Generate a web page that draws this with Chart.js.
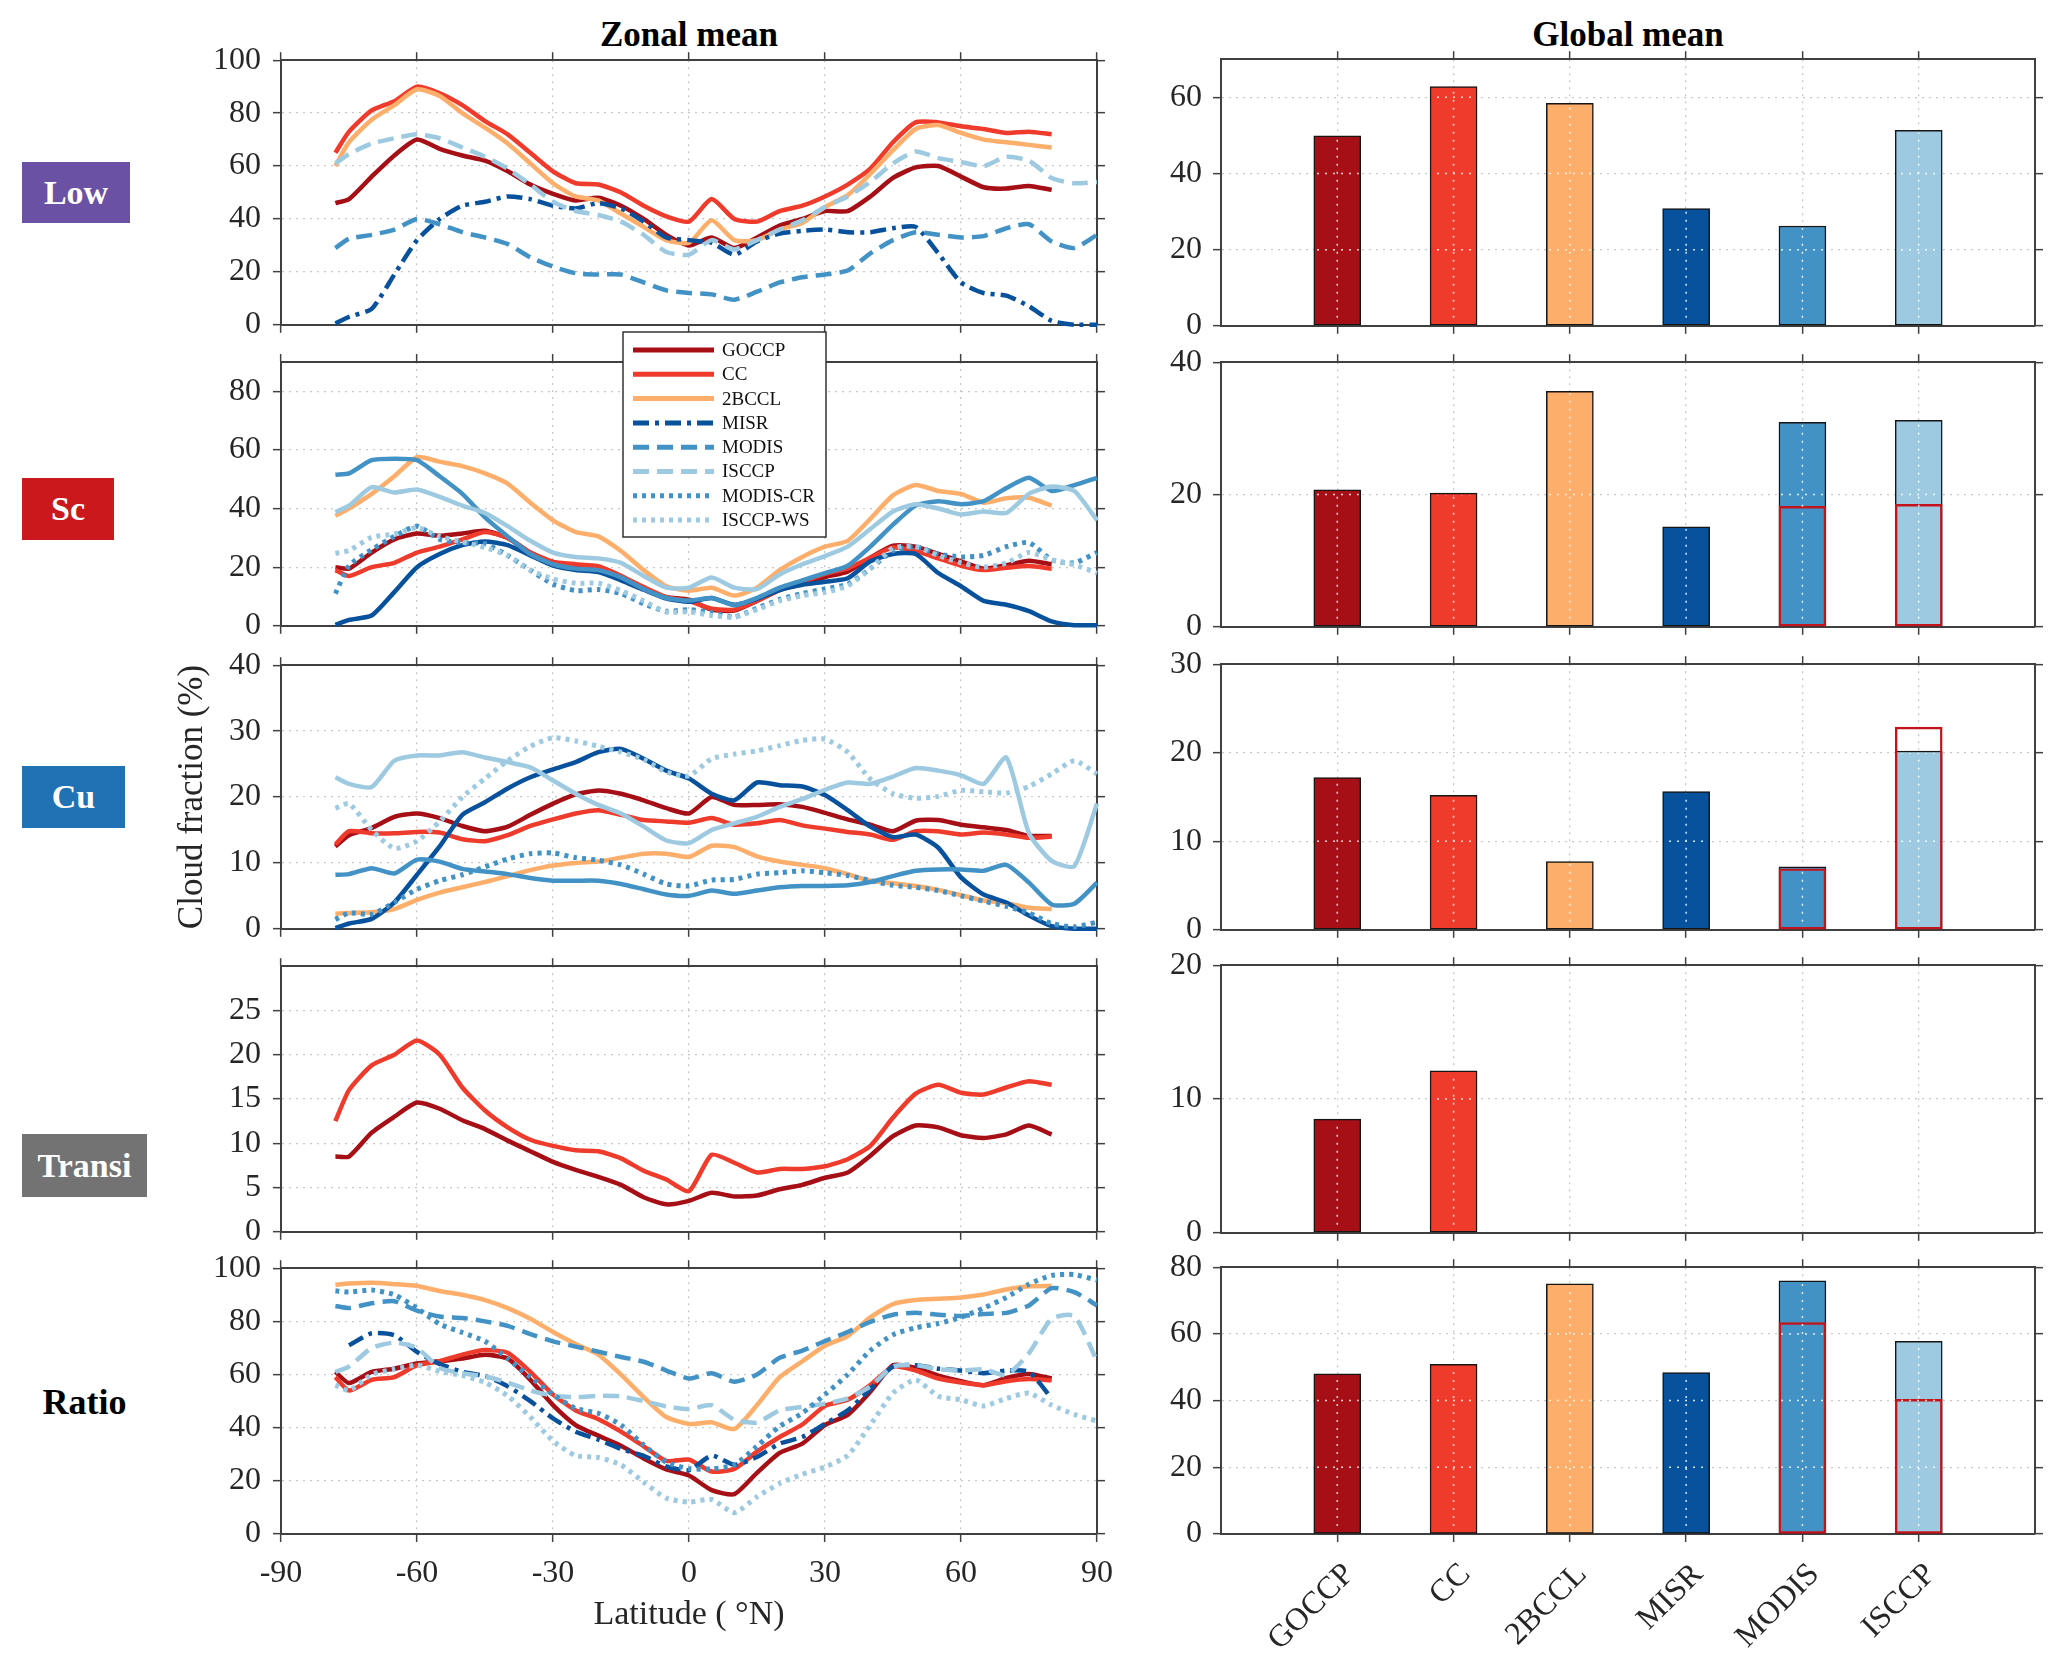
<!DOCTYPE html>
<html><head><meta charset="utf-8">
<script src="https://cdn.jsdelivr.net/npm/chart.js@4.4.1/dist/chart.umd.min.js"></script>
<style>
html,body{margin:0;padding:0;background:#fff}
body{position:relative;width:2068px;height:1673px;overflow:hidden;font-family:'Liberation Serif','Times New Roman',serif}
canvas{position:absolute}
.t{position:absolute;font-weight:bold;text-align:center;color:#000}
.box{position:absolute;color:#fff;font-weight:bold;display:flex;align-items:center;justify-content:center;font-size:34px}
</style></head><body>
<div class="t" style="left:489px;top:14px;width:400px;font-size:35px;line-height:42px">Zonal mean</div>
<div class="t" style="left:1428px;top:14px;width:400px;font-size:35px;line-height:42px">Global mean</div>
<div class="box" style="left:22px;top:162px;width:108px;height:61px;background:#6a51a3">Low</div>
<div class="box" style="left:22px;top:478px;width:92px;height:62px;background:#cb181d">Sc</div>
<div class="box" style="left:22px;top:766px;width:103px;height:62px;background:#2171b5">Cu</div>
<div class="box" style="left:22px;top:1134px;width:125px;height:63px;background:#737373">Transi</div>
<div class="box" style="left:22px;top:1370px;width:125px;height:63px;color:#000;font-size:36px">Ratio</div>
<script>
// ---------------- DATA ----------------
const lat = [-78,-75,-70,-65,-60,-55,-50,-45,-40,-35,-30,-25,-20,-15,-10,-5,0,5,10,15,20,25,30,35,40,45,50,55,60,65,70,75,80,85,90];
const latTicks = [-90,-60,-30,0,30,60,90];

// Low cloud fraction (%)
const lowGOCCP = [46,47.5,56,64,70,66.5,64,62,58,53,49.5,47,48,45,40,34,30,33,29,33,37.5,40,43,43,48.5,55.5,59.5,60,56,52,51.5,52.5,51,null,null];
const lowCC    = [65,73,81,84.5,90,87.5,83,77,72,65,58,53.5,53,50,45,41,39,47.5,40,39,43,45,48.5,53,59,69,76.5,76.5,75,74,72.5,73,72,null,null];
const low2BCCL = [60,69,77.5,83,89,86.5,80,74.5,68.5,61,53.5,48.5,47,42,37,32,31,39.5,32,32,36,38.5,44.5,49,57,66,74,75.5,72.5,70,69,68,67,null,null];
const lowMISR  = [0.5,3,6,19,32,40,45,46.5,48.5,47.5,45,44,46,44,39,33,32,31,26.5,31.5,34.5,35.5,36,35,35,36.5,37,27,16,12,11,7,1.5,0,0];
const lowMODIS = [29,32.5,34,36,40,38,35,33,30.5,25.5,22,19.5,19,19,16,13,12,11.5,9.5,12.5,16,18,19,20.5,27,32,35,34,33,33.5,36.5,38,31.5,29,34];
const lowISCCP = [61,64.5,68.5,70.5,72,70.5,67,63.5,59,53,46.5,43,41.5,39,34,27.5,26.5,32,28.5,32,36,39.5,44.5,48.5,54,61,65.5,63,61.5,60,63.5,62,55.5,53.5,54];

// Sc
const scGOCCP = [20,19.5,25,29.5,31.5,30.7,31.5,32.4,30,25,21.8,20.5,20,17,12.6,9.8,8.9,5.5,5.2,8.5,12.2,14.2,16.6,18.5,23.2,27.3,27,24.5,22,19.5,20.7,22.2,21,null,null];
const scCC    = [19,17,20,21.5,25,27,29.5,32,30,25,21.8,21,20.3,17,13.2,9.8,8.4,5.8,5.5,8.5,12.3,15,17.7,19.6,23.2,26.7,25.5,23,20.5,19,19.8,20.4,19.5,null,null];
const sc2BCCL = [37.5,40,45,51,57.5,56,54.5,52,48.5,42,36,32,30.5,25.5,19,13.5,12,13,10.3,13,19,23.5,27,29,36.5,44.5,48,46,45,42,43.5,43.7,41,null,null];
const scMISR  = [0.3,2,3.5,11.5,20,24.5,27.5,28.8,27.5,24,20.5,19,18.3,15.5,12.3,9.3,8.2,9.5,7.2,9.2,12.2,14,15,16.2,22,24.5,24.5,18,13.5,8.5,7.2,5,1.5,0.2,0.2];
const scMODIS = [51.5,52,56.5,57,56.5,51,45,37,30.5,24.5,21,19.5,19,16.5,12.5,9.5,8.6,9.5,7,9.5,13,15.5,18,20.5,27,34.5,41,42.5,41.5,42.5,47,50.5,46,48,50.5];
const scISCCP = [38.8,41,47.3,45.5,46.5,44,41,38.5,34,29,25,23.5,23,21.5,17,13,13,16.5,13,12.5,17.5,21,23.8,27,33,39,41.5,40,38,39,38.5,45,47.5,46,36];
const scMODISCR = [11,20.5,26,30.5,34,29.5,28.3,28,24,19,14.2,12,12.4,11,7.5,5,5.5,4.5,3,6,9,11,12.6,14.2,19.5,25.6,27,24.5,23.5,24,27,28.4,22.5,21.5,25];
const scISCCPWS = [24.7,25.7,30.2,31.3,33.5,30.5,28.6,26.7,24,19,16,14.5,14.5,12,8.5,4.7,4.8,3.5,3,5.5,8.5,10.3,11.4,13.6,19.5,26.5,27,24,21.5,20,21.4,25,22.5,20.8,18];

// Cu
const cuGOCCP = [12.5,14.2,15.3,17,17.5,16.8,15.6,14.8,15.5,17.3,19,20.4,21,20.5,19.5,18.3,17.5,20,18.8,18.8,18.9,18.5,17.6,16.6,15.8,14.8,16.4,16.5,15.8,15.4,15,14.1,14.1,null,null];
const cuCC    = [12.8,14.8,14.5,14.5,14.7,14.6,13.6,13.3,14.2,15.6,16.6,17.5,18,17.3,16.5,16.3,16.1,16.8,15.8,16,16.5,15.7,15.2,14.7,14.3,13.5,14.8,14.8,14.3,14.6,14.3,13.8,14,null,null];
const cu2BCCL = [2.3,2.4,2.5,3,4.4,5.5,6.3,7.1,8,8.9,9.6,10,10.2,10.8,11.4,11.4,10.9,12.6,12.4,11,10.2,9.7,9.2,8.3,7.3,6.9,6.5,5.9,5.1,4.3,3.9,3.2,3,null,null];
const cuMISR  = [0.1,0.8,1.5,4,8.2,12.5,17.3,19.2,21.3,23,24.2,25.3,26.8,27.3,25.8,24,22.8,20.5,19.5,22.2,21.8,21.6,20.3,18,15.5,13.9,14.3,12.3,7.8,5.2,4,2,0.4,0,0];
const cuMODIS = [8.2,8.3,9.2,8.4,10.5,10.2,9.1,8.7,8.3,7.7,7.3,7.3,7.3,6.8,6,5.2,5,5.8,5.3,5.8,6.3,6.5,6.5,6.6,7.1,8,8.8,9,9,8.8,9.7,7,3.7,3.8,7];
const cuISCCP = [23,22,21.5,25.5,26.3,26.3,26.8,26,25.3,24.5,22.5,20.5,18.8,17.5,15.5,13.4,13,15,16,17,18.5,19.7,21.1,22.2,22,23.1,24.4,24,23.3,22,26,14.5,10.3,9.5,19];
const cuMODISCR = [1.4,2.4,2.2,4,6,7.3,8.2,9.4,10.6,11.4,11.5,10.8,10.4,9.7,8.3,6.8,6.5,7.4,7.5,8.3,8.5,8.8,8.5,8.1,7.3,6.6,6.3,5.8,5,4.2,3.4,2.4,0.8,0.3,1];
const cuISCCPWS = [18.3,19,15,12.2,13.3,16.3,20,22.8,25.5,27.7,29,28.5,27.7,26.8,25.7,23.8,23.2,25.8,26.5,27,27.8,28.6,28.8,26.8,22.7,20.5,19.8,20.1,21,20.8,20.6,21.6,23.5,25.5,23.5];

// Transition
const trGOCCP = [8.5,8.5,11.2,13,14.6,13.9,12.6,11.6,10.3,9.1,7.9,7,6.2,5.3,3.9,3.1,3.5,4.4,4,4.1,4.8,5.3,6.1,6.7,8.6,10.8,12,11.8,10.9,10.6,11,12,11,null,null];
const trCC    = [12.5,16,18.8,20,21.6,20,16.3,13.7,11.8,10.4,9.7,9.2,9.1,8.3,6.9,5.9,4.6,8.7,7.8,6.7,7.1,7.1,7.4,8.2,9.7,12.9,15.6,16.6,15.7,15.5,16.3,17,16.6,null,null];

// Ratio
const raGOCCP = [61,56.8,61,62.2,64.2,65,66,67.4,66,58,48.5,41,37,33.2,28.4,24.3,22,16.5,15,23,30.5,34,41,44.8,53.5,63.5,62.5,59.6,57.5,56,58.7,60.2,58.5,null,null];
const raCC    = [59,54,58,59,63.5,65,67.5,69.2,68.2,61,52.5,46.5,43.2,38.5,33,27.5,28,23.5,24.5,31,36.5,41.2,48.2,50.5,56,63,61.5,58.5,57,56,57.5,58.3,57.8,null,null];
const ra2BCCL = [93.8,94.2,94.5,94,93.3,91.4,90,88,85,81,76,71.5,67.5,60,51.5,44,41.4,42,39.5,48.5,59,65,70.8,74.5,81.5,86.5,88,88.5,89,90.1,92,93.2,93.3,null,null];
const raMISR  = [null,71,75.5,74.8,68.5,64,61,59.4,55.6,50,43.5,38.5,35.5,32,29.4,25.4,24,29.5,26,29,34,36.5,41.5,46.5,54.5,63,63.5,62.2,61.5,60.5,61.5,61,51,null,null];
const raMODIS = [85.8,85,86.8,87.6,84,81.8,81.3,80,78.3,75.2,72.5,70.5,68.6,66.6,64.8,61.5,58.5,60.5,57.3,60,66.3,69,72.6,76,79.8,82.5,83.2,82.5,82,82.8,83.2,86,92.5,91,86];
const raISCCP = [61,63,70,72,70,62.5,60.5,59.3,57,54,52,51.5,52,51.8,50,48,47,48.5,43,42,46.5,47.8,49,51,55.5,63,63.5,62,61.5,62,59.8,68,81,82,65];
const raMODISCR = [91.5,91,91.8,90,85,79,75.8,72.5,66,59,52.5,47.2,45.4,41,33.5,27,24.6,24.5,26,33,40.5,45.5,52.5,60,69,75,77.6,79.2,81.5,85,89,94,97.3,97.6,95.5];
const raISCCPWS = [56,54,60,62,63.5,61.2,59.6,57,52,44,35,29.5,28.8,26,19.5,13.5,12,13,8,14,19,22.5,25.2,29.5,41,53,58,51.8,50.5,48.2,51,53,48.5,45,42.5];

// Global means (bars)
const barNames = ['GOCCP','CC','2BCCL','MISR','MODIS','ISCCP'];
const lowBar   = [49.9,62.8,58.4,30.8,26.2,51.3];
const scBar    = [20.7,20.2,35.6,15.1,30.9,31.2];
const scBarCR  = [null,null,null,null,18.2,18.5];
const cuBar    = [17.2,15.2,7.7,15.6,7.1,20.2];
const cuBarCR  = [null,null,null,null,6.9,22.9];
const trBar    = [8.5,12.1,null,null,null,null];
const raBar    = [48,50.9,75,48.4,75.9,57.8];
const raBarCR  = [null,null,null,null,63.4,40.4];

// ---------------- STYLE ----------------
const FONT = "'Liberation Serif','Times New Roman',serif";
const AX = '#404040', GRID = '#c8c8c8', TXT = '#262626';
const seriesColors = {GOCCP:'#a50f15', CC:'#ef3b2c', '2BCCL':'#fdae6b', MISR:'#08519c', MODIS:'#4292c6', ISCCP:'#9ecae1', 'MODIS-CR':'#4292c6', 'ISCCP-WS':'#9ecae1'};
const barColors = ['#a50f15','#ef3b2c','#fdae6b','#08519c','#4292c6','#9ecae1'];
const DASHES = {solid:[], dash:[16,8], dashdot:[16,6,4,6], dot:[4,5]};
const lowStyle = {GOCCP:'solid', CC:'solid', '2BCCL':'solid', MISR:'dashdot', MODIS:'dash', ISCCP:'dash'};
const scStyle = {GOCCP:'solid', CC:'solid', '2BCCL':'solid', MISR:'solid', MODIS:'solid', ISCCP:'solid', 'MODIS-CR':'dot', 'ISCCP-WS':'dot'};
const ratioStyle = {GOCCP:'solid', CC:'solid', '2BCCL':'solid', MISR:'dashdot', MODIS:'dash', ISCCP:'dash', 'MODIS-CR':'dot', 'ISCCP-WS':'dot'};

function addCanvas(left, top, w, h) {
  const c = document.createElement('canvas');
  c.width = w; c.height = h;
  c.style.left = left + 'px'; c.style.top = top + 'px';
  c.style.width = w + 'px'; c.style.height = h + 'px';
  document.body.appendChild(c);
  return c;
}

function lineDatasets(map, style) {
  const names = Object.keys(map);
  return names.map((n, i) => ({
    type: 'line', label: n, xAxisID: 'x', yAxisID: 'y',
    data: lat.map((x, j) => ({x: x, y: map[n][j]})),
    borderColor: seriesColors[n], backgroundColor: seriesColors[n],
    borderWidth: style[n] === 'dot' ? 5 : 4.5,
    borderDash: DASHES[style[n]], borderCapStyle: 'butt', borderJoinStyle: 'round',
    pointRadius: 0, pointHoverRadius: 0, tension: 0.2, fill: false, spanGaps: false,
    order: names.length - i, clip: 4
  }));
}

function barDatasets(vals, cr) {
  return [
    { type: 'bar', label: 'CR', xAxisID: 'x', yAxisID: 'y',
      data: cr ? cr.map((v, i) => ({x: i + 1, y: v})) : [],
      backgroundColor: 'rgba(0,0,0,0)', borderColor: '#c3141e', borderWidth: 1.8,
      borderSkipped: false, barThickness: 47, grouped: false },
    { type: 'bar', label: 'mean', xAxisID: 'x', yAxisID: 'y',
      data: vals.map((v, i) => ({x: i + 1, y: v})),
      backgroundColor: barColors, borderColor: '#151515', borderWidth: 1.5,
      borderSkipped: false, barThickness: 47, grouped: false }
  ];
}

function makeScale(o) {
  const horiz = (o.pos === 'top' || o.pos === 'bottom');
  return {
    type: 'linear', position: o.pos, min: o.min, max: o.max, offset: false,
    afterBuildTicks: s => { s.ticks = o.ticks.map(v => ({value: v})); },
    afterFit: s => { if (horiz) s.height = o.size; else s.width = o.size; },
    ticks: {display: !!o.labels, font: {family: FONT, size: 32}, color: TXT, padding: o.pad == null ? 12 : o.pad,
            autoSkip: false, maxRotation: o.rot || 0, minRotation: o.rot || 0, labelOffset: o.lo || 0,
            callback: o.cb || (v => String(v))},
    grid: {display: true, drawOnChartArea: !!o.main, drawTicks: true, tickLength: 8, tickWidth: 1.5, tickColor: AX,
           color: c => (c.tick && (c.tick.value === o.min || c.tick.value === o.max)) ? 'rgba(0,0,0,0)' : GRID,
           lineWidth: 1.3, offset: false},
    border: {display: true, color: AX, width: 2, dash: [2, 5]},
    title: o.title || {display: false}
  };
}

const barGridPlugin = {
  id: 'barGrid',
  afterDatasetsDraw(chart) {
    const ctx = chart.ctx, ys = chart.scales.y, xs = chart.scales.x;
    const meta = chart.getDatasetMeta(1);
    if (!meta) return;
    ctx.save();
    ctx.strokeStyle = 'rgba(255,255,255,0.85)'; ctx.lineWidth = 1.5; ctx.setLineDash([2, 6]);
    meta.data.forEach(el => {
      if (!el) return;
      const p = el.getProps(['x', 'y', 'base', 'width'], true);
      if (!isFinite(p.y) || !isFinite(p.base)) return;
      const top = Math.min(p.y, p.base), h = Math.abs(p.base - p.y);
      if (h < 4) return;
      ctx.save();
      ctx.beginPath(); ctx.rect(p.x - p.width / 2 + 2, top + 2, p.width - 4, h - 4); ctx.clip();
      ctx.beginPath();
      ctx.moveTo(p.x, ys.bottom); ctx.lineTo(p.x, ys.top);
      ys.ticks.forEach(t => { const py = ys.getPixelForValue(t.value); ctx.moveTo(xs.left, py); ctx.lineTo(xs.right, py); });
      ctx.stroke();
      ctx.restore();
    });
    ctx.restore();
  }
};

const legendNames = ['GOCCP','CC','2BCCL','MISR','MODIS','ISCCP','MODIS-CR','ISCCP-WS'];
function legendPlugin(ox, oy) {
  return {
    id: 'zoneLegend',
    afterDraw(chart) {
      const ctx = chart.ctx;
      ctx.save();
      const bx = 623 - ox, by = 332 - oy, bw = 203, bh = 205;
      ctx.fillStyle = '#fff'; ctx.fillRect(bx, by, bw, bh);
      ctx.strokeStyle = '#333'; ctx.lineWidth = 1.5; ctx.setLineDash([]); ctx.strokeRect(bx, by, bw, bh);
      legendNames.forEach((n, i) => {
        const y = 350 - oy + i * 24.3;
        ctx.strokeStyle = seriesColors[n]; ctx.lineWidth = 5; ctx.lineCap = 'butt';
        ctx.setLineDash(DASHES[ratioStyle[n]]);
        ctx.beginPath(); ctx.moveTo(633 - ox, y); ctx.lineTo(714 - ox, y); ctx.stroke();
        ctx.setLineDash([]);
        ctx.fillStyle = '#111'; ctx.font = '19px ' + FONT; ctx.textBaseline = 'middle'; ctx.textAlign = 'left';
        ctx.fillText(n, 722 - ox, y + 1);
      });
      ctx.restore();
    }
  };
}

function panel(p) {
  const L = p.col === 0 ? {pl: 281, pr: 1097, cl: 150, cr: 1137} : {pl: 1221, pr: 2035, cl: 1111, cr: 2068};
  const padT = p.padT || 30, padB = p.padB || 30;
  const cTop = p.top - padT, cH = p.bottom - p.top + padT + padB, cW = L.cr - L.cl;
  const cv = addCanvas(L.cl, cTop, cW, cH);
  const isBar = p.col === 1;
  const xMin = isBar ? 0 : -90, xMax = isBar ? 7 : 90;
  const xT = isBar ? barNames.map((_, i) => i + 1) : latTicks;
  const scales = {
    x: makeScale({pos: 'bottom', min: xMin, max: xMax, ticks: xT, main: true, size: padB, labels: p.xLabels,
                  cb: isBar ? (v => barNames[v - 1] || '') : (v => String(v)),
                  rot: (isBar && p.xLabels) ? 45 : 0, pad: isBar ? 14 : 12, lo: isBar ? 12 : 0, title: p.xTitle}),
    x2: makeScale({pos: 'top', min: xMin, max: xMax, ticks: xT, main: false, size: padT}),
    y: makeScale({pos: 'left', min: 0, max: p.ymax, ticks: p.yticks, main: true, size: L.pl - L.cl, labels: true,
                  pad: p.col === 0 ? 12 : 11, title: p.yTitle}),
    y2: makeScale({pos: 'right', min: 0, max: p.ymax, ticks: p.yticks, main: false, size: L.cr - L.pr})
  };
  const plugins = (p.plugins || []).map(f => f(L.cl, cTop));
  return new Chart(cv, {
    type: isBar ? 'bar' : 'line',
    data: {datasets: p.datasets},
    options: {responsive: false, animation: false, devicePixelRatio: 1, layout: {padding: 0}, events: [],
              plugins: {legend: {display: false}, tooltip: {enabled: false}}, scales: scales},
    plugins: plugins
  });
}

// ---------------- PANELS ----------------
const rows = [
  {top: 59,   bottom: 326,  lymax: 100, lyt: [0,20,40,60,80,100], rymax: 70, ryt: [0,20,40,60]},
  {top: 362,  bottom: 627,  lymax: 90,  lyt: [0,20,40,60,80],     rymax: 40, ryt: [0,20,40]},
  {top: 664,  bottom: 930,  lymax: 40,  lyt: [0,10,20,30,40],     rymax: 30, ryt: [0,10,20,30]},
  {top: 965,  bottom: 1233, lymax: 30,  lyt: [0,5,10,15,20,25],   rymax: 20, ryt: [0,10,20]},
  {top: 1267, bottom: 1534, lymax: 100, lyt: [0,20,40,60,80,100], rymax: 80, ryt: [0,20,40,60,80]}
];

const titleFontY = {display: true, text: 'Cloud fraction (%)', color: TXT, font: {family: FONT, size: 35}, padding: {top: 22, bottom: 0}};
const titleFontX = {display: true, text: 'Latitude ( \u00B0N)', color: TXT, font: {family: FONT, size: 34}, padding: {top: 0, bottom: 38}};

// Row 1: Low
panel({col: 0, top: rows[0].top, bottom: rows[0].bottom, ymax: rows[0].lymax, yticks: rows[0].lyt,
  datasets: lineDatasets({GOCCP: lowGOCCP, CC: lowCC, '2BCCL': low2BCCL, MISR: lowMISR, MODIS: lowMODIS, ISCCP: lowISCCP}, lowStyle)});
panel({col: 1, top: rows[0].top, bottom: rows[0].bottom, ymax: rows[0].rymax, yticks: rows[0].ryt,
  datasets: barDatasets(lowBar, null), plugins: [() => barGridPlugin]});

// Row 2: Sc (legend drawn here)
panel({col: 0, top: rows[1].top, bottom: rows[1].bottom, padT: 36, ymax: rows[1].lymax, yticks: rows[1].lyt,
  datasets: lineDatasets({GOCCP: scGOCCP, CC: scCC, '2BCCL': sc2BCCL, MISR: scMISR, MODIS: scMODIS, ISCCP: scISCCP, 'MODIS-CR': scMODISCR, 'ISCCP-WS': scISCCPWS}, scStyle),
  plugins: [legendPlugin]});
panel({col: 1, top: rows[1].top, bottom: rows[1].bottom, ymax: rows[1].rymax, yticks: rows[1].ryt,
  datasets: barDatasets(scBar, scBarCR), plugins: [() => barGridPlugin]});

// Row 3: Cu
panel({col: 0, top: rows[2].top, bottom: rows[2].bottom, ymax: rows[2].lymax, yticks: rows[2].lyt, yTitle: titleFontY,
  datasets: lineDatasets({GOCCP: cuGOCCP, CC: cuCC, '2BCCL': cu2BCCL, MISR: cuMISR, MODIS: cuMODIS, ISCCP: cuISCCP, 'MODIS-CR': cuMODISCR, 'ISCCP-WS': cuISCCPWS}, scStyle)});
panel({col: 1, top: rows[2].top, bottom: rows[2].bottom, ymax: rows[2].rymax, yticks: rows[2].ryt,
  datasets: barDatasets(cuBar, cuBarCR), plugins: [() => barGridPlugin]});

// Row 4: Transi
panel({col: 0, top: rows[3].top, bottom: rows[3].bottom, ymax: rows[3].lymax, yticks: rows[3].lyt,
  datasets: lineDatasets({GOCCP: trGOCCP, CC: trCC}, ratioStyle)});
panel({col: 1, top: rows[3].top, bottom: rows[3].bottom, ymax: rows[3].rymax, yticks: rows[3].ryt,
  datasets: barDatasets(trBar, null), plugins: [() => barGridPlugin]});

// Row 5: Ratio
panel({col: 0, top: rows[4].top, bottom: rows[4].bottom, padB: 139, ymax: rows[4].lymax, yticks: rows[4].lyt,
  xLabels: true, xTitle: titleFontX,
  datasets: lineDatasets({GOCCP: raGOCCP, CC: raCC, '2BCCL': ra2BCCL, MISR: raMISR, MODIS: raMODIS, ISCCP: raISCCP, 'MODIS-CR': raMODISCR, 'ISCCP-WS': raISCCPWS}, ratioStyle)});
panel({col: 1, top: rows[4].top, bottom: rows[4].bottom, padB: 139, ymax: rows[4].rymax, yticks: rows[4].ryt,
  xLabels: true, datasets: barDatasets(raBar, raBarCR), plugins: [() => barGridPlugin]});
</script>
</body></html>
